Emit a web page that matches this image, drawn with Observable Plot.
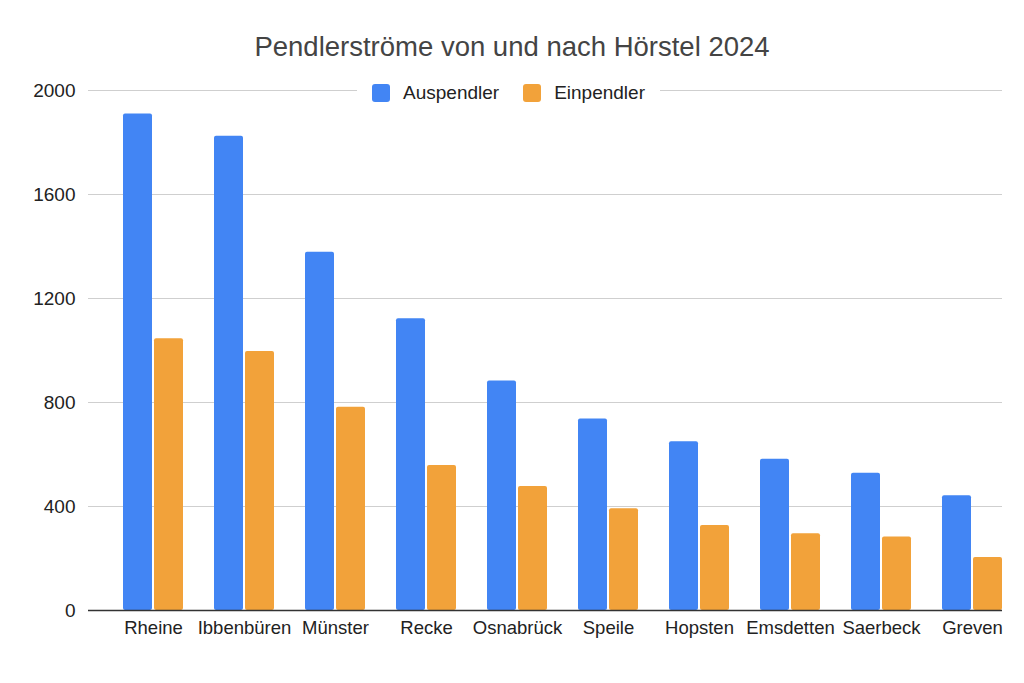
<!DOCTYPE html>
<html>
<head>
<meta charset="utf-8">
<script src="https://cdn.jsdelivr.net/npm/d3@7"></script>
<script src="https://cdn.jsdelivr.net/npm/@observablehq/plot@0.6"></script>
<style>
  html, body { margin: 0; padding: 0; background: #fff; }
  #wrap { position: relative; width: 1024px; height: 683px; font-family: "Liberation Sans", Arial, Helvetica, sans-serif; }
  #title { position: absolute; left: 0; top: 29px; width: 1024px; text-align: center; font-size: 27.5px; color: #444; line-height: 36px; }
  #legend { position: absolute; left: 357px; top: 80px; width: 303px; height: 26px; background: #fff; display: flex; align-items: center; justify-content: center; font-size: 19px; color: #222; }
  .item { display: flex; align-items: center; margin: 0 12px; }
  .sw { width: 18px; height: 18px; border-radius: 3px; margin-right: 13px; }
</style>
</head>
<body>
<div id="wrap">
  <div id="chart"></div>
  <div id="title">Pendlerströme von und nach Hörstel 2024</div>
  <div id="legend"></div>
</div>
<script>
const cities = ["Rheine", "Ibbenbüren", "Münster", "Recke", "Osnabrück", "Speile", "Hopsten", "Emsdetten", "Saerbeck", "Greven"];
const auspendler = [1910, 1824, 1378, 1122, 883, 737, 649, 582, 528, 441];
const einpendler = [1045, 996, 782, 558, 477, 391, 327, 295, 283, 204];
const seriesNames = ["Auspendler", "Einpendler"];
const seriesColors = ["#4285F4", "#F2A23A"];
const yTicks = [0, 400, 800, 1200, 1600, 2000];

const rows = cities.map((c, i) => ({city: c, aus: auspendler[i], ein: einpendler[i]}));

const chart = Plot.plot({
  width: 1024,
  height: 683,
  marginTop: 90,
  marginBottom: 73,
  marginLeft: 88,
  marginRight: 22,
  style: {fontFamily: "'Liberation Sans', Arial, Helvetica, sans-serif", fontSize: "18.5px", color: "#222", background: "#fff"},
  x: {domain: cities, paddingInner: 0.34, paddingOuter: 0.19, align: 1, label: null},
  y: {domain: [0, 2000], label: null},
  marks: [
    Plot.gridY(yTicks.filter(d => d > 0), {stroke: "#cfcfcf", strokeOpacity: 1, strokeWidth: 1.2}),
    Plot.barY(rows, {x: "city", y: "aus", fill: seriesColors[0], insetRight: 31, rx: 2}),
    Plot.barY(rows, {x: "city", y: "ein", fill: seriesColors[1], insetLeft: 31, rx: 2}),
    Plot.ruleY([0], {stroke: "#333", strokeWidth: 1.5}),
    Plot.axisX({tickSize: 0, tickPadding: 10, label: null, fill: "#222"}),
    Plot.axisY({ticks: yTicks, tickFormat: d => String(d), tickSize: 0, tickPadding: 13, label: null, fill: "#222", fontSize: "19px"})
  ]
});
document.getElementById("chart").appendChild(chart);

const legend = document.getElementById("legend");
seriesNames.forEach((n, i) => {
  const it = document.createElement("div");
  it.className = "item";
  it.innerHTML = `<span class="sw" style="background:${seriesColors[i]}"></span><span>${n}</span>`;
  legend.appendChild(it);
});
</script>
</body>
</html>
